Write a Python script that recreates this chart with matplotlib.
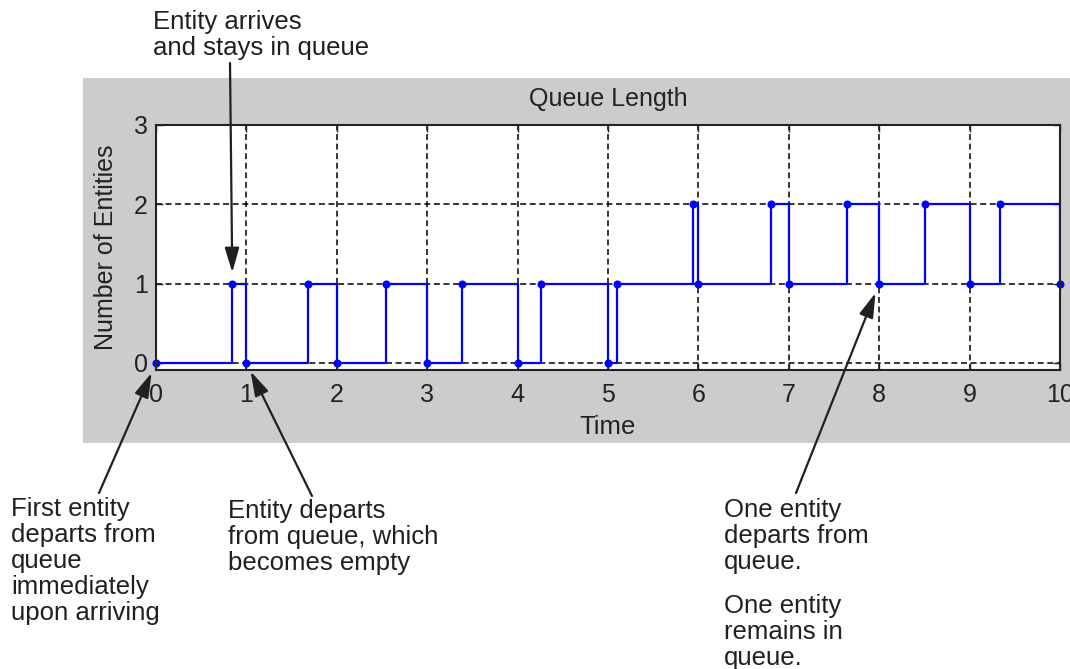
import matplotlib
matplotlib.use("Agg")
import matplotlib.pyplot as plt
from matplotlib.patches import Rectangle

plt.rcParams['font.family'] = ['Liberation Sans', 'DejaVu Sans']
plt.rcParams['lines.scale_dashes'] = False

# ---- data ----
times = [0.0, 0.845, 1.0, 1.685, 2.0, 2.545, 3.0, 3.38, 4.0, 4.255, 5.0, 5.10,
         5.94, 6.0, 6.80, 7.0, 7.64, 8.0, 8.51, 9.0, 9.34, 10.0]
counts = [0, 1, 0, 1, 0, 1, 0, 1, 0, 1, 0, 1,
          2, 1, 2, 1, 2, 1, 2, 1, 2, 1]
x_ticks = [0, 1, 2, 3, 4, 5, 6, 7, 8, 9, 10]
y_ticks = [0, 1, 2, 3]
title = "Queue Length"
xlabel = "Time"
ylabel = "Number of Entities"

W, H = 1070, 669
fig = plt.figure(figsize=(W / 100, H / 100), dpi=100, facecolor='white')

def fx(px):
    return px / W

def fy(py):
    return (H - py) / H

# grey MATLAB figure background
fig.patches.append(Rectangle((fx(83), fy(443)), fx(W - 83), (443 - 78) / H,
                             transform=fig.transFigure, facecolor='#cccccc',
                             edgecolor='none', zorder=-5))

ax = fig.add_axes([fx(156), fy(370), fx(1060 - 156), (370 - 125) / H])
ax.set_zorder(1)
ax.set_facecolor('white')

ax.step(times, counts, where='post', color='#0000ff', lw=1.6, zorder=3)
ax.plot(times, counts, linestyle='none', marker='o', ms=5.8, mew=0,
        color='#0000ff', zorder=4, clip_on=False)

ax.set_xlim(0, 10)
ax.set_ylim(-0.09, 3)
ax.set_xticks(x_ticks)
ax.set_yticks(y_ticks)
ax.grid(True, color='black', lw=1.1, linestyle=(0, (4.3, 2.6)))
ax.set_axisbelow(True)
for s in ax.spines.values():
    s.set_linewidth(1.5)
    s.set_color('#222222')
    s.set_zorder(5)
ax.tick_params(direction='in', length=5, width=1, top=True, right=True,
               labelsize=18, colors='#222222')
ax.tick_params(axis='x', pad=9)
ax.tick_params(axis='y', pad=6)
ax.set_title(title, fontsize=18, pad=14, color='#222222')
ax.set_xlabel(xlabel, fontsize=18.5, labelpad=6, color='#222222')
ax.set_ylabel(ylabel, fontsize=18, labelpad=11, color='#222222')

# ---- annotations ----
tc = '#231f20'
fs = 18.5
ls = 1.1
fig.text(fx(153), fy(10), "Entity arrives\nand stays in queue", ha='left', va='top',
         fontsize=fs, color=tc, linespacing=ls)
fig.text(fx(11), fy(497), "First entity\ndeparts from\nqueue\nimmediately\nupon arriving",
         ha='left', va='top', fontsize=fs, color=tc, linespacing=ls)
fig.text(fx(228), fy(499), "Entity departs\nfrom queue, which\nbecomes empty",
         ha='left', va='top', fontsize=fs, color=tc, linespacing=ls)
fig.text(fx(724), fy(498), "One entity\ndeparts from\nqueue.",
         ha='left', va='top', fontsize=fs, color=tc, linespacing=ls)
fig.text(fx(724), fy(594), "One entity\nremains in\nqueue.",
         ha='left', va='top', fontsize=fs, color=tc, linespacing=ls)

arrow_style = '-|>,head_length=0.75,head_width=0.22'
arrows = [
    ((times[1], counts[1]), (230, 63), 8.0),
    ((times[0], counts[0]), (99, 493), 7.8),
    ((times[2], counts[2]), (312, 496), 6.8),
    ((times[17], counts[17]), (796, 493), 7.2),
]
for xy, tail, shr in arrows:
    ax.annotate("", xy=xy, xycoords='data', xytext=(tail[0], H - tail[1]),
                textcoords='figure pixels', annotation_clip=False,
                arrowprops=dict(arrowstyle=arrow_style, mutation_scale=20, lw=1.6,
                                color=tc, shrinkA=0, shrinkB=shr), zorder=6)

fig.savefig('out.png', dpi=100)
